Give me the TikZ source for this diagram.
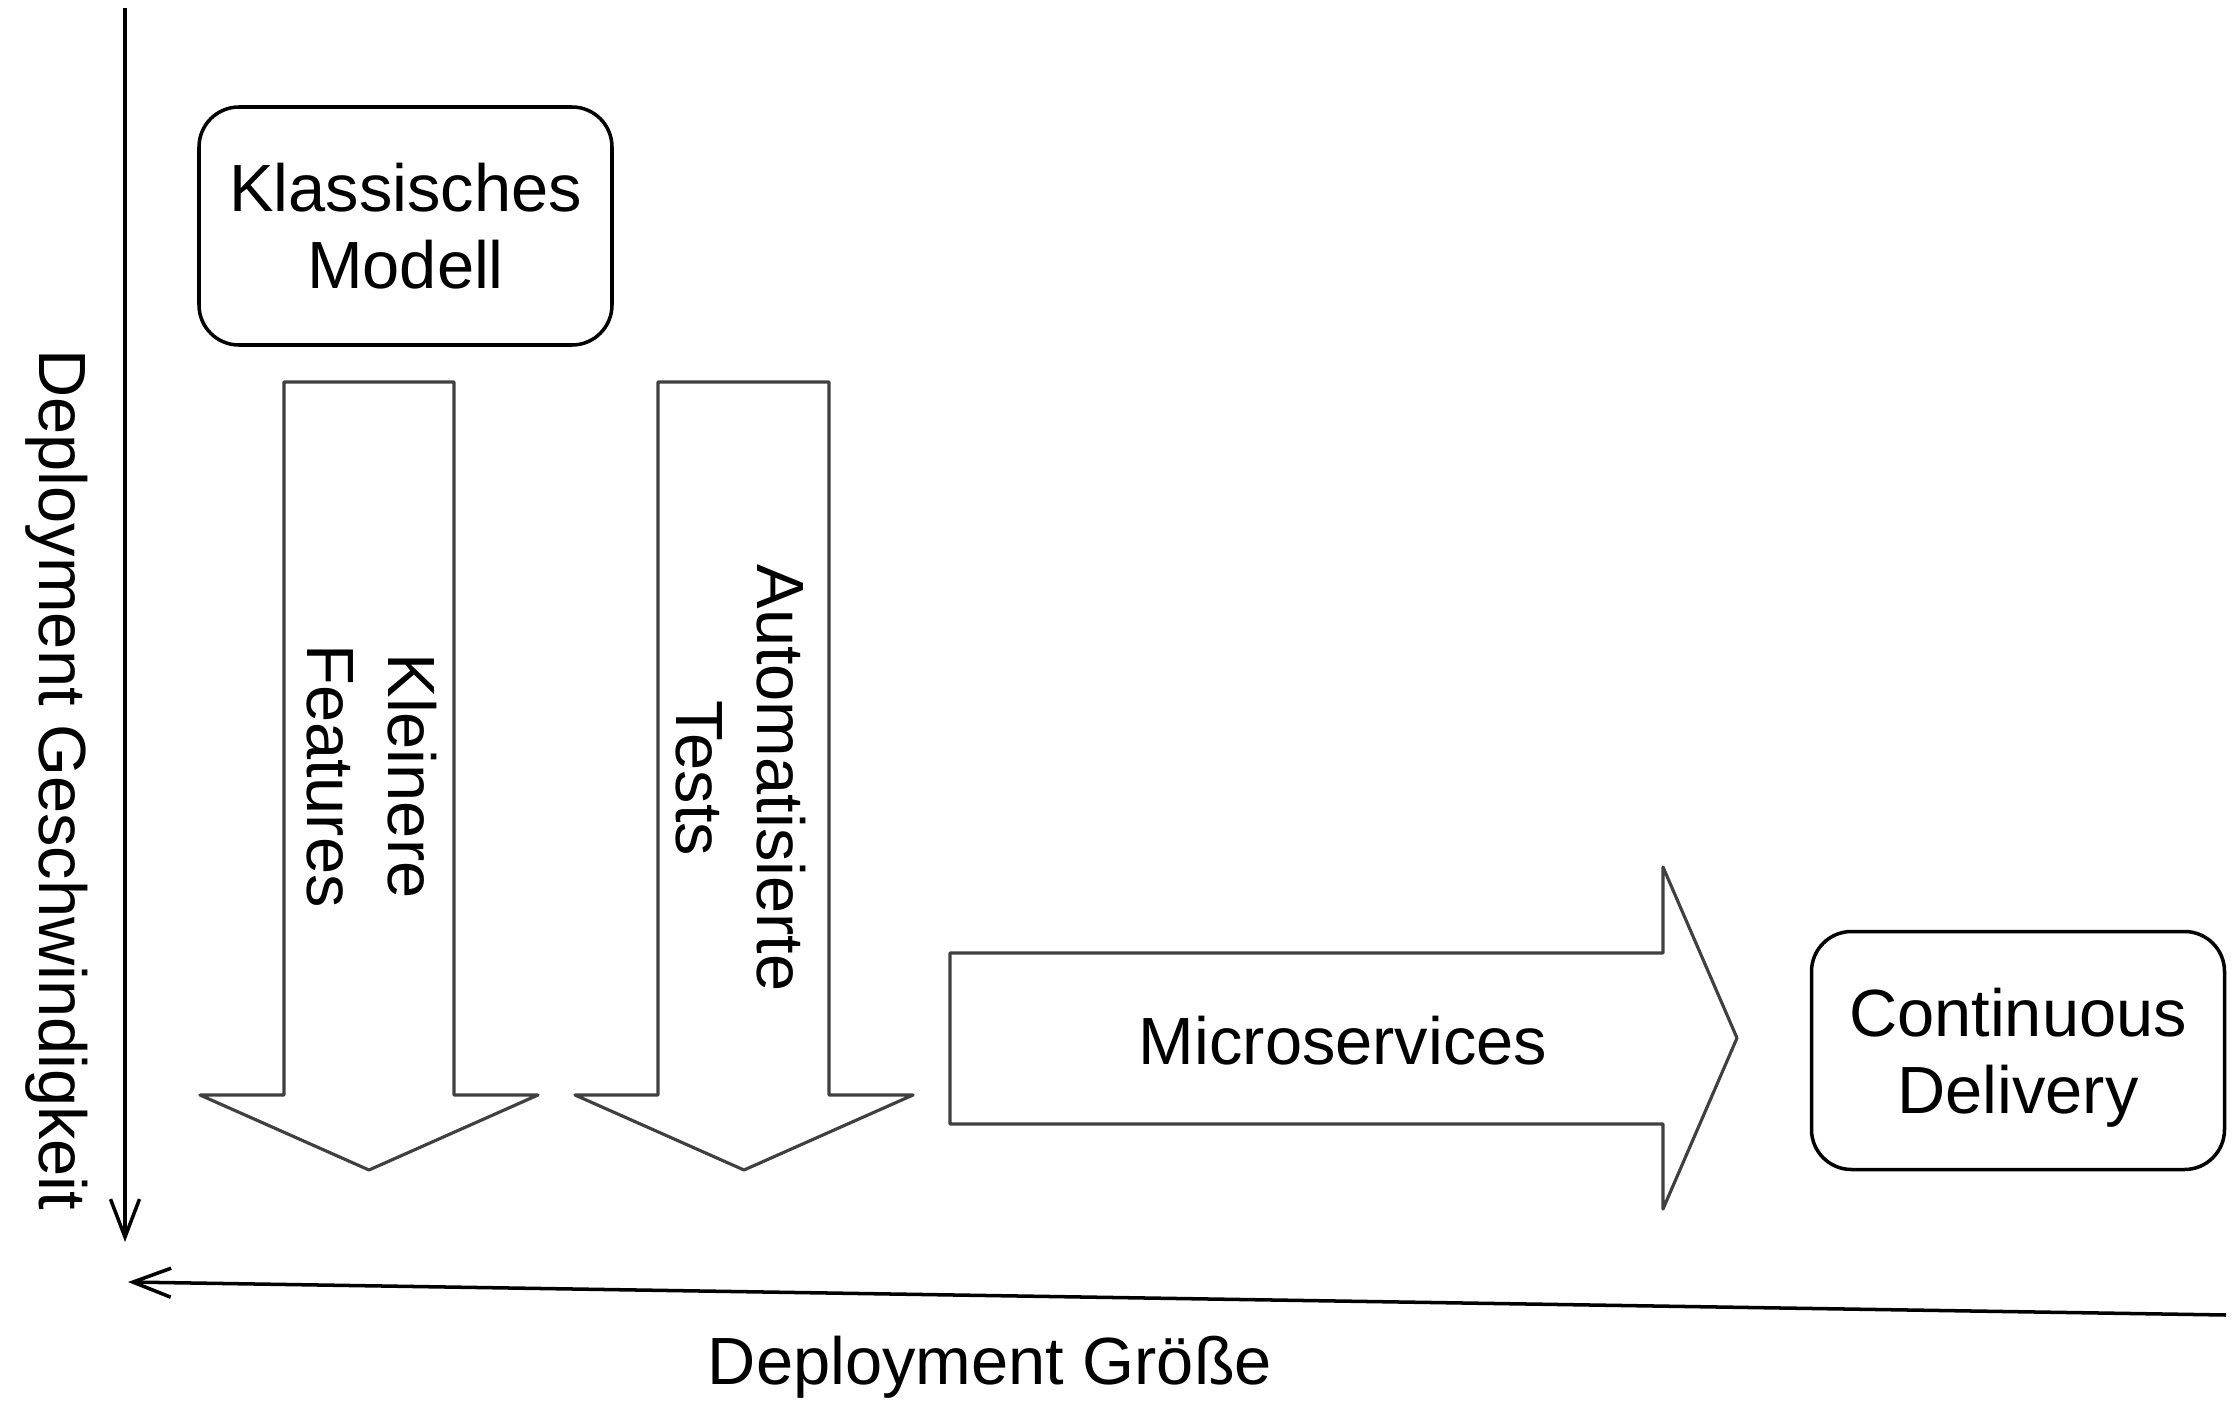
\documentclass[tikz,border=0pt]{standalone}
\usepackage{fontspec}
\setmainfont{Liberation Sans}
\usetikzlibrary{arrows.meta,positioning}
\definecolor{arrowgray}{RGB}{64,64,64}

\begin{document}
\begin{tikzpicture}[
    box/.style={rectangle, rounded corners=0.4cm, draw=black, line width=1pt, minimum width=4.13cm, minimum height=2.38cm, align=center, font=\fontsize{19}{22}\selectfont},
    bigarrow/.style={draw=arrowgray, line width=0.9pt, line join=round},
    txt/.style={align=center, inner sep=0pt, font=\fontsize{19}{23}\selectfont},
    axis/.style={draw=black, line width=1pt, -{Straight Barb[length=3.8mm, width=2.9mm]}},
]
    \useasboundingbox (0,0) rectangle (22.33,-14.20);

    % Axes
    \coordinate (yStart) at (1.25,-0.08);
    \coordinate (yEnd) at (1.25,-12.42);
    \coordinate (xStart) at (22.26,-13.15);
    \coordinate (xEnd) at (1.28,-12.82);
    \draw[axis] (yStart) -- (yEnd);
    \draw[axis] (xStart) -- (xEnd);

    \node[txt, rotate=-90] (speed) at (0.57,-7.80) {Deployment Geschwindigkeit};
    \node[txt] (size) at (9.90,-13.67) {Deployment Größe};

    % Start and goal
    \node[box] (classic) at (4.055,-2.26) {
        Klassisches\\
        Modell
    };

    \node[box, text depth=0pt] (cd) at (20.18,-10.505) {
        Continuous\\
        Delivery
    };

    % Down arrows
    \draw[bigarrow] (2.84,-3.82) -- (4.54,-3.82) -- (4.54,-10.95) -- (5.38,-10.95)
        -- (3.69,-11.70) -- (2.00,-10.95) -- (2.84,-10.95) -- cycle;
    \node[txt, rotate=-90] (features) at (3.72,-7.76) {
        Kleinere\\
        Features
    };

    \draw[bigarrow] (6.58,-3.82) -- (8.29,-3.82) -- (8.29,-10.95) -- (9.13,-10.95)
        -- (7.44,-11.70) -- (5.75,-10.95) -- (6.58,-10.95) -- cycle;
    \node[txt, rotate=-90] (tests) at (7.41,-7.78) {
        Automatisierte\\
        Tests
    };

    % Right arrow
    \draw[bigarrow] (9.50,-9.53) -- (16.63,-9.53) -- (16.63,-8.67) -- (17.37,-10.38)
        -- (16.63,-12.09) -- (16.63,-11.24) -- (9.50,-11.24) -- cycle;
    \node[txt] (micro) at (13.43,-10.41) {Microservices};
\end{tikzpicture}
\end{document}
